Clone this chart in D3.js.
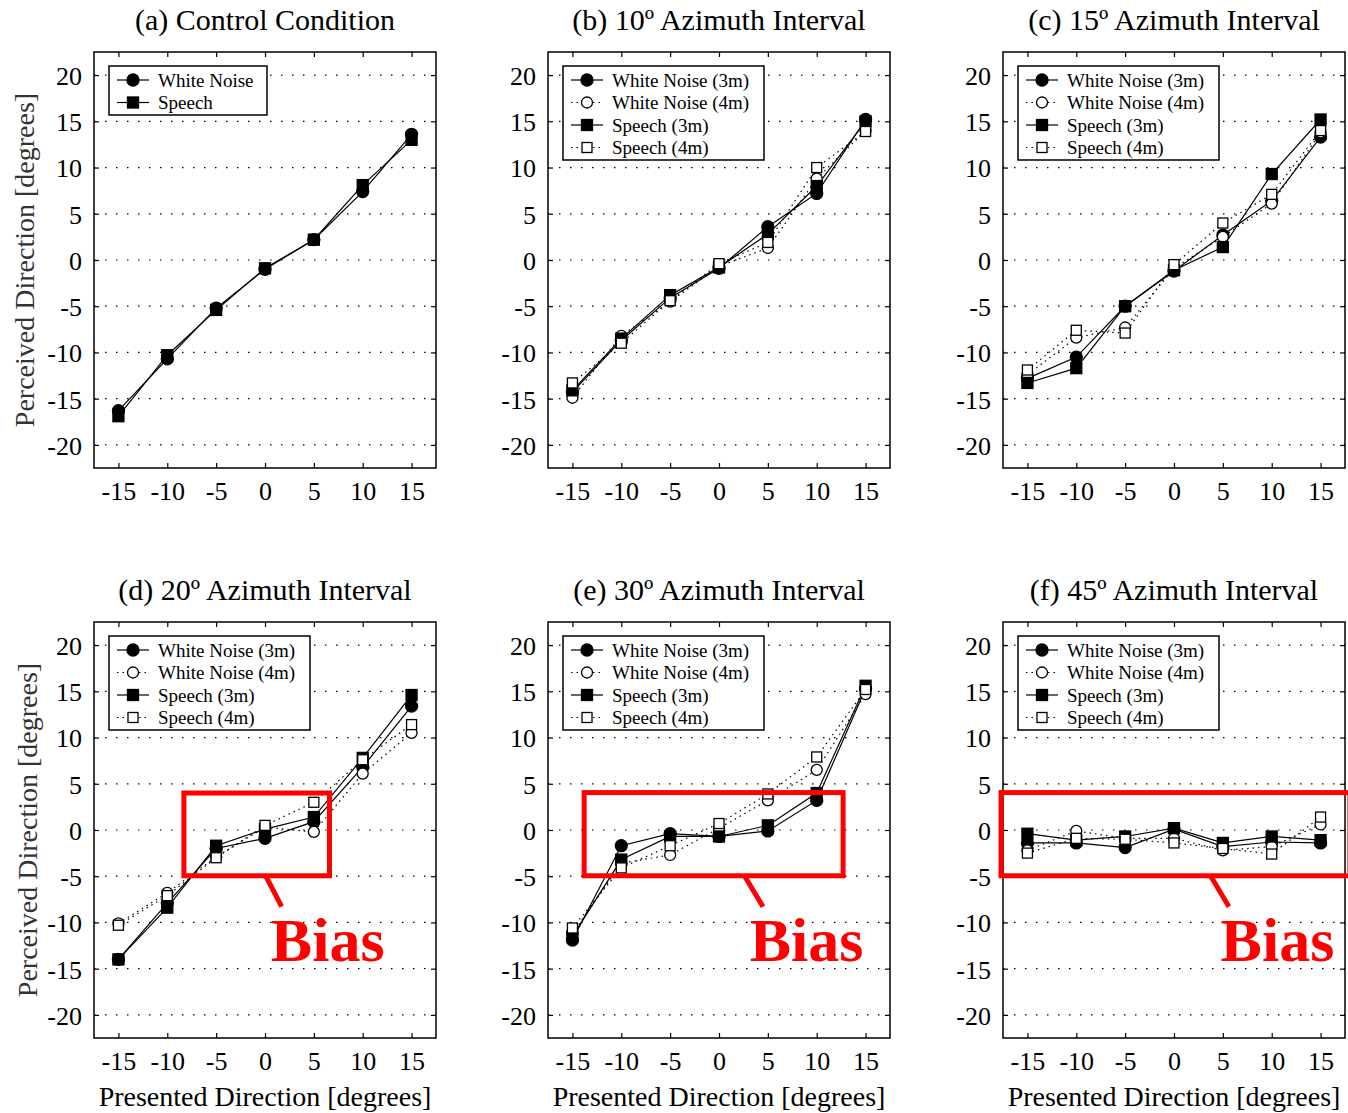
<!DOCTYPE html>
<html>
<head>
<meta charset="utf-8">
<script src="https://cdn.jsdelivr.net/npm/d3@7"></script>
<style>
  body { margin: 0; background: #fff; }
  svg text { font-family: "Liberation Serif", "Times New Roman", serif; }
</style>
</head>
<body>
<svg id="chart" width="1348" height="1113"></svg>
<script>
// ---- data ----
var xTicks = [-15, -10, -5, 0, 5, 10, 15];
var yTicks = [20, 15, 10, 5, 0, -5, -10, -15, -20];
var panelTitles = ["(a) Control Condition", "(b) 10º Azimuth Interval", "(c) 15º Azimuth Interval",
                   "(d) 20º Azimuth Interval", "(e) 30º Azimuth Interval", "(f) 45º Azimuth Interval"];
var controlNames = ["White Noise", "Speech"];
var seriesNames = ["White Noise (3m)", "White Noise (4m)", "Speech (3m)", "Speech (4m)"];

// (a) control
var ctrlWhiteNoise = [-16.3, -10.7, -5.2, -1.0, 2.2, 7.4, 13.6];
var ctrlSpeech     = [-16.9, -10.3, -5.4, -0.9, 2.2, 8.1, 13.0];
// (b) 10 deg
var az10_wn3 = [-14.3, -8.7, -4.1, -0.9, 3.6, 7.2, 15.2];
var az10_wn4 = [-14.9, -8.2, -4.5, -0.7, 1.3, 8.8, 14.0];
var az10_s3  = [-14.1, -8.5, -3.8, -0.8, 2.8, 8.0, 15.0];
var az10_s4  = [-13.3, -9.0, -4.4, -0.4, 1.9, 10.0, 13.9];
// (c) 15 deg
var az15_wn3 = [-12.8, -10.5, -5.0, -1.2, 2.7, 6.4, 13.3];
var az15_wn4 = [-12.4, -8.4, -7.3, -0.9, 2.5, 6.1, 13.8];
var az15_s3  = [-13.3, -11.7, -5.0, -1.1, 1.4, 9.3, 15.2];
var az15_s4  = [-11.9, -7.6, -7.9, -0.5, 4.0, 7.1, 14.0];
// (d) 20 deg
var az20_wn3 = [-14.0, -7.9, -2.0, -0.9, 0.9, 6.8, 13.4];
var az20_wn4 = [-10.1, -6.8, -2.9, 0.3, -0.2, 6.1, 10.5];
var az20_s3  = [-14.0, -8.4, -1.7, 0.1, 1.4, 7.8, 14.6];
var az20_s4  = [-10.3, -7.1, -3.0, 0.5, 3.0, 7.6, 11.4];
// (e) 30 deg
var az30_wn3 = [-11.9, -1.7, -0.4, -0.7, -0.1, 3.2, 15.3];
var az30_wn4 = [-11.2, -3.6, -2.7, 0.2, 3.2, 6.5, 14.7];
var az30_s3  = [-11.5, -3.2, -0.7, -0.7, 0.5, 4.0, 15.6];
var az30_s4  = [-10.6, -4.1, -1.7, 0.7, 3.9, 7.9, 15.2];
// (f) 45 deg
var az45_wn3 = [-1.4, -1.4, -1.9, 0.1, -1.8, -1.3, -1.4];
var az45_wn4 = [-2.2, -0.1, -0.9, -0.9, -2.2, -1.8, 0.6];
var az45_s3  = [-0.4, -1.1, -0.7, 0.2, -1.4, -0.7, -1.1];
var az45_s4  = [-2.5, -0.9, -1.0, -1.4, -2.0, -2.6, 1.4];

// "Bias" callouts in data units: box [x0, x1, y0, y1], leader, label position
var biasBoxes = [null, null, null,
  [-8.3, 6.6, -4.95, 4.0], [-13.8, 12.7, -4.95, 4.05], [-17.7, 18.0, -4.95, 4.05]];
var biasLeaders = [null, null, null,
  [[0.07, -4.95], [1.7, -8.3]], [[2.6, -4.95], [4.5, -8.3]], [[3.74, -4.95], [5.62, -8.3]]];
var biasLabels = [null, null, null, [0.6, -14.15], [3.15, -14.15], [4.77, -14.15]];

var panelSeries = [
  [ctrlWhiteNoise, ctrlSpeech],
  [az10_wn3, az10_wn4, az10_s3, az10_s4],
  [az15_wn3, az15_wn4, az15_s3, az15_s4],
  [az20_wn3, az20_wn4, az20_s3, az20_s4],
  [az30_wn3, az30_wn4, az30_s3, az30_s4],
  [az45_wn3, az45_wn4, az45_s3, az45_s4]
];

// ---- layout ----
var colLeft = [94, 548, 1003];
var rowTop = [52, 622];
var pw = 342, ph = 416;

// 0 filled circle solid, 1 open circle dotted, 2 filled square solid, 3 open square dotted
var styles4 = [
  {shape: "circle", fill: "#000", dash: null},
  {shape: "circle", fill: "#fff", dash: "1.5,4"},
  {shape: "square", fill: "#000", dash: null},
  {shape: "square", fill: "#fff", dash: "1.5,4"}
];
var styles2 = [styles4[0], styles4[2]];
var plainNum = function(d) { return String(d); };   // hyphen minus, like the original

var svg = d3.select("#chart");

function drawMarker(g, st, cx, cy) {
  if (st.shape === "circle") {
    var r = st.fill === "#000" ? 6 : 5.5;
    g.append("circle").attr("cx", cx).attr("cy", cy).attr("r", r)
      .attr("fill", st.fill).attr("stroke", "#000").attr("stroke-width", 1.3);
  } else {
    var s = st.fill === "#000" ? 11 : 10;
    g.append("rect").attr("x", cx - s / 2).attr("y", cy - s / 2).attr("width", s).attr("height", s)
      .attr("fill", st.fill).attr("stroke", "#000").attr("stroke-width", 1.3);
  }
}

panelSeries.forEach(function(series, i) {
  var col = i % 3, row = Math.floor(i / 3);
  var x0 = colLeft[col], y0 = rowTop[row];
  var x = d3.scaleLinear().domain([-17.5, 17.5]).range([x0, x0 + pw]);
  var y = d3.scaleLinear().domain([-22.5, 22.5]).range([y0 + ph, y0]);
  var g = svg.append("g");

  // dotted grid
  g.selectAll(".grid").data(yTicks).enter().append("line")
    .attr("x1", x0).attr("x2", x0 + pw)
    .attr("y1", function(d) { return y(d); }).attr("y2", function(d) { return y(d); })
    .attr("stroke", "#000").attr("stroke-width", 1.2).attr("stroke-dasharray", "1.5,9.5");

  // axes with inward ticks
  var bottom = g.append("g").attr("transform", "translate(0," + (y0 + ph) + ")")
    .call(d3.axisBottom(x).tickValues(xTicks).tickSizeInner(-5).tickSizeOuter(0).tickPadding(14).tickFormat(plainNum));
  var top = g.append("g").attr("transform", "translate(0," + y0 + ")")
    .call(d3.axisTop(x).tickValues(xTicks).tickSizeInner(-5).tickSizeOuter(0).tickFormat(""));
  var left = g.append("g").attr("transform", "translate(" + x0 + ",0)")
    .call(d3.axisLeft(y).tickValues(yTicks).tickSizeInner(-5).tickSizeOuter(0).tickPadding(12).tickFormat(plainNum));
  var right = g.append("g").attr("transform", "translate(" + (x0 + pw) + ",0)")
    .call(d3.axisRight(y).tickValues(yTicks).tickSizeInner(-5).tickSizeOuter(0).tickFormat(""));
  [bottom, top, left, right].forEach(function(a) {
    a.select(".domain").remove();
    a.selectAll("line").attr("stroke", "#000").attr("stroke-width", 1.2);
    a.selectAll("text").attr("font-family", "Liberation Serif").attr("font-size", 26).attr("fill", "#000");
  });
  bottom.selectAll("text").attr("dy", "0.71em");
  left.selectAll("text").attr("dy", "0.36em");

  g.append("rect").attr("x", x0).attr("y", y0).attr("width", pw).attr("height", ph)
    .attr("fill", "none").attr("stroke", "#000").attr("stroke-width", 1.5);

  // title
  g.append("text").attr("x", x0 + pw / 2).attr("y", y0 - 22)
    .attr("text-anchor", "middle").attr("font-size", 30).text(panelTitles[i]);

  // series
  var sty = series.length === 2 ? styles2 : styles4;
  var line = d3.line().x(function(d, k) { return x(xTicks[k]); }).y(function(d) { return y(d); });
  series.forEach(function(vals, s) {
    g.append("path").attr("d", line(vals)).attr("fill", "none").attr("stroke", "#000")
      .attr("stroke-width", 1.2).attr("stroke-dasharray", sty[s].dash);
  });
  series.forEach(function(vals, s) {
    vals.forEach(function(v, k) { drawMarker(g, sty[s], x(xTicks[k]), y(v)); });
  });

  // legend
  var names = series.length === 2 ? controlNames : seriesNames;
  var lw = series.length === 2 ? 158 : 201;
  var lx = x0 + 15, ly = y0 + 14;
  var leg = g.append("g");
  leg.append("rect").attr("x", lx).attr("y", ly).attr("width", lw).attr("height", 22.5 * names.length + 4)
    .attr("fill", "#fff").attr("stroke", "#000").attr("stroke-width", 1.5);
  names.forEach(function(n, s) {
    var cy = ly + 14 + 22.5 * s;
    leg.append("line").attr("x1", lx + 8).attr("x2", lx + 40).attr("y1", cy).attr("y2", cy)
      .attr("stroke", "#000").attr("stroke-width", 1.2).attr("stroke-dasharray", sty[s].dash);
    drawMarker(leg, sty[s], lx + 24, cy);
    leg.append("text").attr("x", lx + 49).attr("y", cy).attr("dy", "0.35em")
      .attr("font-size", 19).text(n);
  });

  // bias callout
  if (biasBoxes[i]) {
    var b = biasBoxes[i];
    g.append("rect").attr("x", x(b[0])).attr("y", y(b[3]))
      .attr("width", x(b[1]) - x(b[0])).attr("height", y(b[2]) - y(b[3]))
      .attr("fill", "none").attr("stroke", "#f00").attr("stroke-width", 5);
    var l = biasLeaders[i];
    g.append("line").attr("x1", x(l[0][0])).attr("y1", y(l[0][1]))
      .attr("x2", x(l[1][0])).attr("y2", y(l[1][1]))
      .attr("stroke", "#f00").attr("stroke-width", 5);
    g.append("text").attr("x", x(biasLabels[i][0])).attr("y", y(biasLabels[i][1]))
      .attr("font-size", 62).attr("font-weight", "bold").attr("fill", "#f00").text("Bias");
  }

  // axis labels
  if (col === 0) {
    g.append("text").attr("transform", "translate(" + (row === 0 ? 34 : 37) + "," + (y0 + ph / 2) + ") rotate(-90)")
      .attr("text-anchor", "middle").attr("font-size", 28).attr("fill", "#333")
      .text("Perceived Direction [degrees]");
  }
  if (row === 1) {
    g.append("text").attr("x", x0 + pw / 2).attr("y", 1106)
      .attr("text-anchor", "middle").attr("font-size", 28).text("Presented Direction [degrees]");
  }
});
</script>
</body>
</html>
